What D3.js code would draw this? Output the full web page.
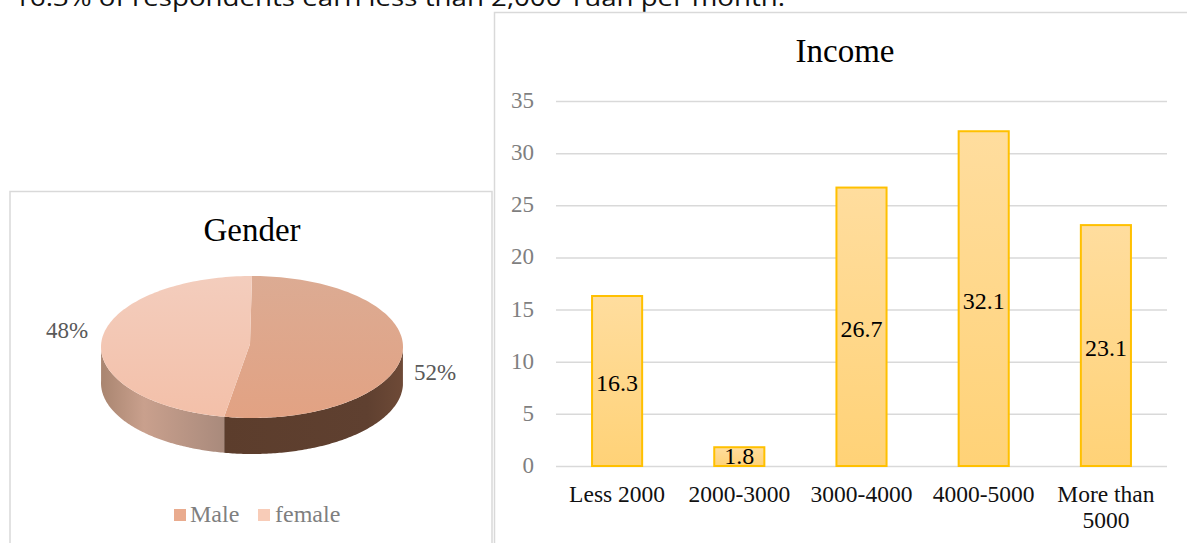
<!DOCTYPE html>
<html><head><meta charset="utf-8">
<script src="https://cdn.jsdelivr.net/npm/d3@7/dist/d3.min.js"></script>
<style>html,body{margin:0;padding:0;background:#fff;overflow:hidden}svg{display:block}text{font-family:"Liberation Serif",serif}</style>
</head><body><svg id="c" width="1187" height="543"></svg>
<script>
const incomeCategories = ["Less 2000","2000-3000","3000-4000","4000-5000","More than 5000"];
const incomeValues = [16.3,1.8,26.7,32.1,23.1];
const incomeTicks = [0,5,10,15,20,25,30,35];
const genderCategories = ["Male","female"];
const genderValues = [52,48];
const genderLabels = ["52%","48%"];
const captionText = "16.3% of respondents earn less than 2,000 Yuan per month.";

const svg = d3.select("#c");
const defs = svg.append("defs");
function grad(id, stops, horizontal){
  const g = defs.append("linearGradient").attr("id",id).attr("x1",0).attr("y1",0)
    .attr("x2",horizontal?1:0).attr("y2",horizontal?0:1);
  stops.forEach(([o,c])=>g.append("stop").attr("offset",o).attr("stop-color",c));
}
grad("barFill",[[0,"#ffdd9e"],[1,"#ffd277"]]);
grad("maleTop",[[0,"#dcab93"],[1,"#e2a283"]]);
grad("femaleTop",[[0,"#f3cdbd"],[1,"#f3c0a9"]]);
grad("maleSide",[[0,"#5c3d2c"],[0.8,"#5f4030"],[1,"#6e4a37"]],true);
grad("femaleSide",[[0,"#a98570"],[0.35,"#c9a08d"],[1,"#a98a7c"]],true);

svg.append("text").attr("x",14).attr("y",6).attr("textLength",771).attr("lengthAdjust","spacingAndGlyphs")
  .style("font-family","'Open Sans',sans-serif").style("font-size","24px").attr("fill","#111").text(captionText);

// panels
svg.append("path").attr("d","M10,544V191.5H492V544").attr("fill","#fff").attr("stroke","#d9d9d9").attr("stroke-width",1.5);
svg.append("path").attr("d","M494.5,544V12.5H1188").attr("fill","#fff").attr("stroke","#d9d9d9").attr("stroke-width",1.5);

// Income
const x = d3.scaleBand().domain(incomeCategories).range([556,1167]).paddingInner(0.59).paddingOuter(0.295);
const y = d3.scaleLinear().domain([0,35]).range([466,101]);
svg.append("text").attr("x",845).attr("y",62).attr("text-anchor","middle").attr("font-size",33).attr("fill","#000").text("Income");
const yAxis = d3.axisLeft(y).tickValues(incomeTicks).tickSize(-611).tickPadding(0).tickFormat(d3.format("d"));
const ya = svg.append("g").attr("transform","translate(556,0)").call(yAxis);
ya.select(".domain").remove();
ya.selectAll("line").attr("stroke","#d9d9d9").attr("stroke-width",1.5);
ya.selectAll("text").attr("x",-22).attr("text-anchor","end").attr("font-size",23).attr("fill","#7f7f7f").attr("dy","0.28em")
  .style("font-family","'Liberation Serif',serif");
svg.append("g").selectAll("rect").data(incomeValues).join("rect")
  .attr("x",(d,i)=>x(incomeCategories[i])).attr("width",x.bandwidth())
  .attr("y",d=>y(d)).attr("height",d=>y(0)-y(d))
  .attr("fill","url(#barFill)").attr("stroke","#ffc000").attr("stroke-width",2);
svg.append("g").selectAll("text").data(incomeValues).join("text")
  .attr("x",(d,i)=>x(incomeCategories[i])+x.bandwidth()/2)
  .attr("y",d=>Math.min((y(d)+y(0))/2+2, y(0)-10)).attr("dy","0.35em")
  .attr("text-anchor","middle").attr("font-size",24).attr("fill","#000").text(d=>d);
const xl = svg.append("g").selectAll("text").data(incomeCategories).join("text")
  .attr("text-anchor","middle").attr("font-size",23.5).attr("fill","#111")
  .attr("x",d=>x(d)+x.bandwidth()/2).attr("y",502);
xl.each(function(d){
  const el=d3.select(this), cx=x(d)+x.bandwidth()/2;
  const lines = d.length>10 ? ["More than","5000"] : [d];
  lines.forEach((t,i)=>el.append("tspan").attr("x",cx).attr("dy",i?26:0).text(t));
});

// Gender pie
const cx=252, cy=347, rx=151, ry=71, depth=36;
svg.append("text").attr("x",252).attr("y",241).attr("text-anchor","middle").attr("font-size",33).attr("fill","#000").text("Gender");
const pie = d3.pie().sort(null).startAngle(0).endAngle(2*Math.PI)(genderValues);
const warp = a => a + 0.03*(1-Math.cos(a));
const pt = (a,dz=0)=>{const w=warp(a);return [cx+rx*Math.sin(w), cy-ry*Math.cos(w)+dz];};
const line = d3.line();
const sample = (a0,a1)=>d3.range(0,121).map(i=>a0+(a1-a0)*i/120);
function sidePath(a0,a1){
  const lo=Math.max(a0,Math.PI/2), hi=Math.min(a1,3*Math.PI/2);
  const as=sample(lo,hi);
  return line(as.map(a=>pt(a,0)).concat(as.slice().reverse().map(a=>pt(a,depth))))+"Z";
}
function topPath(a0,a1){
  return line([[cx-2,cy-3]].concat(sample(a0,a1).map(a=>pt(a))))+"Z";
}
const sideFills=["url(#maleSide)","url(#femaleSide)"], topFills=["url(#maleTop)","url(#femaleTop)"];
svg.append("g").selectAll("path").data(pie).join("path")
  .attr("d",d=>sidePath(d.startAngle,d.endAngle)).attr("fill",(d,i)=>sideFills[i]);
svg.append("g").selectAll("path").data(pie).join("path")
  .attr("d",d=>topPath(d.startAngle,d.endAngle)).attr("fill",(d,i)=>topFills[i]);
const pieLabelPos=[[435,380],[67,338]];
svg.append("g").selectAll("text").data(genderLabels).join("text")
  .attr("x",(d,i)=>pieLabelPos[i][0]).attr("y",(d,i)=>pieLabelPos[i][1])
  .attr("text-anchor","middle").attr("font-size",23).attr("fill","#595959").text(d=>d);
const lg=[[174,"#e9ab8e",190],[258,"#f8ccb8",275]];
genderCategories.forEach((n,i)=>{
  svg.append("rect").attr("x",lg[i][0]).attr("y",509).attr("width",12).attr("height",12).attr("fill",lg[i][1]);
  svg.append("text").attr("x",lg[i][2]).attr("y",522).attr("font-size",24).attr("fill","#7f7f7f").text(n);
});
</script></body></html>
